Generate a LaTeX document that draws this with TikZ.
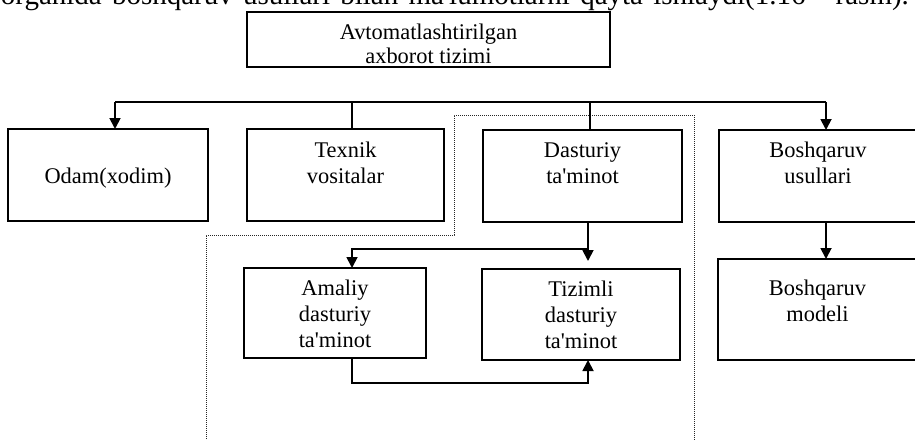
\documentclass[tikz,border=0pt]{standalone}
\usepackage{fontspec}
\setmainfont{Liberation Serif}[Ligatures=TeXOff]
\usetikzlibrary{arrows.meta}
\newcommand\bxt[4]{\parbox[c][#1][t]{#2}{\centering\rule{0pt}{#3}#4}}
\begin{document}
\begin{tikzpicture}[x=1pt,y=-1pt,line width=1.8pt,
  box/.style={draw,inner sep=0pt,outer sep=0pt},
  arr/.style={-{Triangle[length=11pt,width=11pt]}},
  dotline/.style={line width=0.9pt,dash pattern=on 0.9pt off 1.1pt,black!85},
  font=\fontsize{22.4}{26}\selectfont]
\useasboundingbox (0,0) rectangle (915,439);
\clip (0,0) rectangle (915,439);

\node[anchor=base west,inner sep=0pt,font=\fontsize{29}{31}\selectfont] (para) at (0,5)
  {\makebox[908pt][s]{organida boshqaruv usullari bilan ma'lumotlarni qayta ishlaydi(1.16 - rasm).}};

\node[box] (top) at (428.5,39.5) {\fontsize{22.4}{24}\selectfont\bxt{55pt}{363pt}{27pt}{Avtomatlashtirilgan\\axborot tizimi}};
\node[box] (odam) at (108,175) {\bxt{92pt}{200pt}{54pt}{Odam(xodim)}};
\node[box] (texnik) at (345.5,175) {\bxt{92pt}{197pt}{28pt}{Texnik\\vositalar}};
\node[box] (dasturiy) at (582.5,176) {\bxt{92pt}{199pt}{27pt}{Dasturiy\\ta'minot}};
\node[box] (boshq) at (818,176) {\bxt{92pt}{198pt}{27pt}{Boshqaruv\\usullari}};
\node[box] (amaliy) at (335,313) {\bxt{90pt}{182pt}{27pt}{Amaliy\\dasturiy\\ta'minot}};
\node[box] (tizimli) at (581,314.5) {\bxt{91pt}{198pt}{27pt}{Tizimli\\dasturiy\\ta'minot}};
\node[box] (modeli) at (817.5,309.5) {\bxt{101pt}{199pt}{36pt}{Boshqaruv\\modeli}};

\draw[dotline] (206,445) -- (206,235) -- (454,235) -- (454,115) -- (694,115) -- (694,445);

\coordinate (busL) at (115,102);
\coordinate (busT) at (352,102);
\coordinate (busD) at (590,102);
\coordinate (busR) at (826,102);
\draw (busL) -- (busR);
\draw[arr] (busL) -- (busL |- odam.north);
\draw (busT) -- (busT |- texnik.north);
\draw (busD) -- (busD |- dasturiy.north);
\draw[arr] (busR) -- (busR |- boshq.north);
\draw[arr] (busR |- boshq.south) -- (busR |- modeli.north);

\coordinate (ds) at (588,249);
\coordinate (am) at (352,249);
\draw[arr,shorten >=8pt] (ds |- dasturiy.south) -- (ds |- tizimli.north);
\draw[arr] (ds) -- (am) -- (am |- amaliy.north);
\coordinate (lo1) at (352,383);
\coordinate (lo2) at (588,383);
\draw[arr] (lo1 |- amaliy.south) -- (lo1) -- (lo2) -- (lo2 |- tizimli.south);
\end{tikzpicture}
\end{document}
